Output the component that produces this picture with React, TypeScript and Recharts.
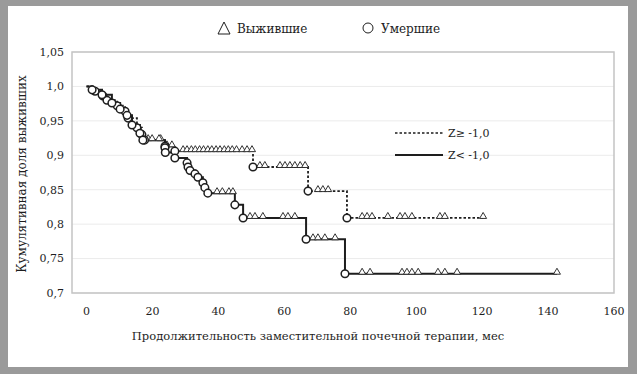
import React from 'react';
import { ComposedChart, Line, Scatter, XAxis, YAxis, CartesianGrid, ReferenceArea } from 'recharts';

const xTicks = [0, 20, 40, 60, 80, 100, 120, 140, 160];
const yTicks = [0.7, 0.75, 0.8, 0.85, 0.9, 0.95, 1.0, 1.05];
const yTickLabels = ['0,7', '0,75', '0,8', '0,85', '0,9', '0,95', '1,0', '1,05'];

const legendTop = ['Выжившие', 'Умершие'];
const seriesNames = ['Z≥ -1,0', 'Z< -1,0'];
const xTitle = 'Продолжительность заместительной почечной терапии, мес';
const yTitle = 'Кумулятивная доля выживших';

// Z ≥ -1,0 (dashed) — deaths (circles)
const dashedEventT = [2.6, 5.0, 6.2, 9.3, 11.7, 12.6, 15.3, 16.8, 17.6, 23.8, 26.8, 50.5, 67.2, 79.0];
const dashedEventV = [0.993, 0.986, 0.98, 0.972, 0.964, 0.954, 0.94, 0.93, 0.922, 0.913, 0.906, 0.883, 0.848, 0.809];
// Z ≥ -1,0 — survivors (triangles)
const dashedCensT = [22.5, 24.4, 25.9, 29.3, 30.5, 31.8, 33.0, 34.3, 35.5, 36.8, 38.0, 39.3, 40.5, 41.8, 43.0, 44.2, 45.5, 47.2, 48.7, 50.2, 52.6, 54.1, 58.7, 60.2, 61.7, 63.2, 64.8, 66.3, 70.2, 71.7, 73.3, 83.6, 85.1, 86.6, 91.4, 95.1, 96.6, 98.7, 107.2, 108.7, 120.3];
const dashedCensV = [0.922, 0.913, 0.913, 0.906, 0.906, 0.906, 0.906, 0.906, 0.906, 0.906, 0.906, 0.906, 0.906, 0.906, 0.906, 0.906, 0.906, 0.906, 0.906, 0.906, 0.883, 0.883, 0.883, 0.883, 0.883, 0.883, 0.883, 0.883, 0.848, 0.848, 0.848, 0.809, 0.809, 0.809, 0.809, 0.809, 0.809, 0.809, 0.809, 0.809, 0.809];
const dashedEnd = 120.3;

// Z < -1,0 (solid) — deaths (circles)
const solidEventT = [1.7, 4.7, 7.7, 10.2, 12.3, 13.8, 16.2, 17.1, 23.8, 23.9, 26.8, 30.5, 30.8, 31.4, 32.9, 33.8, 35.3, 35.9, 36.8, 45.0, 47.5, 66.6, 78.4];
const solidEventV = [0.995, 0.988, 0.976, 0.967, 0.958, 0.944, 0.932, 0.922, 0.911, 0.904, 0.896, 0.889, 0.883, 0.878, 0.873, 0.868, 0.86, 0.853, 0.845, 0.828, 0.809, 0.778, 0.728];
// Z < -1,0 — survivors (triangles)
const solidCensT = [18.7, 19.9, 22.0, 39.6, 41.2, 43.2, 44.4, 49.6, 51.1, 53.5, 59.6, 61.1, 63.2, 68.7, 70.2, 72.3, 75.4, 83.6, 86.0, 95.7, 97.2, 98.7, 100.6, 106.6, 108.7, 112.4, 142.7];
const solidCensV = [0.922, 0.922, 0.922, 0.845, 0.845, 0.845, 0.845, 0.809, 0.809, 0.809, 0.809, 0.809, 0.809, 0.778, 0.778, 0.778, 0.778, 0.728, 0.728, 0.728, 0.728, 0.728, 0.728, 0.728, 0.728, 0.728, 0.728];
const solidEnd = 142.7;

const pts = (ts: number[], vs: number[]) => ts.map((t, i) => ({ t, v: vs[i] }));
const stepLine = (ts: number[], vs: number[], end: number) => [
  { t: 0, v: 1.0 },
  ...pts(ts, vs),
  { t: end, v: vs[vs.length - 1] },
];

const dashedLine = stepLine(dashedEventT, dashedEventV, dashedEnd);
const solidLine = stepLine(solidEventT, solidEventV, solidEnd);
const deaths = [...pts(dashedEventT, dashedEventV), ...pts(solidEventT, solidEventV)];
const survivors = [...pts(dashedCensT, dashedCensV), ...pts(solidCensT, solidCensV)];

const FONT = "'DejaVu Serif', serif";
const INK = '#1e1e1e';

const Tri = (p: any) => {
  const { cx, cy } = p;
  if (cx == null || cy == null) return null;
  return (
    <path
      d={`M${cx - 3.5},${cy + 0.5} L${cx + 3.5},${cy + 0.5} L${cx},${cy - 5.5} Z`}
      fill="#fff"
      stroke={INK}
      strokeWidth={0.9}
    />
  );
};

const Circ = (p: any) => {
  const { cx, cy } = p;
  if (cx == null || cy == null) return null;
  return <circle cx={cx} cy={cy} r={3.8} fill="#fff" stroke={INK} strokeWidth={1.5} />;
};

export default function App() {
  return (
    <div style={{ position: 'absolute', left: 0, top: 0, width: 637, height: 374, background: '#fff', overflow: 'hidden', fontFamily: FONT }}>
      <div
        style={{
          position: 'absolute', inset: 0, boxSizing: 'border-box',
          borderStyle: 'solid', borderColor: '#9a9a9a',
          borderTopWidth: 6, borderLeftWidth: 8, borderRightWidth: 9, borderBottomWidth: 7,
        }}
      />
      <div style={{ position: 'absolute', left: 0, top: 0 }}>
        <ComposedChart width={637} height={374} margin={{ top: 52, right: 23, bottom: 0, left: 8 }} style={{ fontFamily: FONT }}>
          <CartesianGrid vertical={false} stroke="#ebebeb" />
          <ReferenceArea x1={-4.4} x2={160} y1={0.7} y2={1.05} fill="none" stroke="#c4c4c4" strokeWidth={1.5} ifOverflow="visible" />
          <XAxis
            type="number"
            dataKey="t"
            domain={[-4.4, 160]}
            ticks={xTicks}
            allowDataOverflow
            height={81}
            tickLine={false}
            axisLine={false}
            tickSize={0}
            tickMargin={14}
            tick={{ fontFamily: FONT, fontSize: 11, fill: INK }}
            interval={0}
          />
          <YAxis
            type="number"
            domain={[0.7, 1.05]}
            ticks={yTicks}
            width={64}
            tickLine={false}
            axisLine={false}
            tickSize={0}
            tickMargin={8}
            tickFormatter={(v: number, i: number) => yTickLabels[i]}
            tick={{ fontFamily: FONT, fontSize: 11, fill: INK }}
            interval={0}
          />
          <Line data={dashedLine} dataKey="v" type="stepAfter" stroke={INK} strokeWidth={1.8} strokeDasharray="2.5 2" dot={false} activeDot={false} isAnimationActive={false} />
          <Line data={solidLine} dataKey="v" type="stepAfter" stroke={INK} strokeWidth={2} dot={false} activeDot={false} isAnimationActive={false} />
          <Scatter data={survivors} dataKey="v" shape={Tri} isAnimationActive={false} />
          <Scatter data={deaths} dataKey="v" shape={Circ} isAnimationActive={false} />
        </ComposedChart>
      </div>
      <svg width={637} height={374} style={{ position: 'absolute', left: 0, top: 0, pointerEvents: 'none' }}>
        <g style={{ fontFamily: FONT }} fill={INK}>
          <path d="M218,34 L230,34 L224,22 Z" fill="#fff" stroke={INK} strokeWidth={1} />
          <text x={237} y={33} fontSize={12}>{legendTop[0]}</text>
          <circle cx={368} cy={28} r={5} fill="#fff" stroke={INK} strokeWidth={1} />
          <text x={381} y={33} fontSize={12}>{legendTop[1]}</text>

          <line x1={395} y1={133} x2={443} y2={133} stroke={INK} strokeWidth={1.5} strokeDasharray="2.5 2" />
          <text x={448} y={137} fontSize={11}>{seriesNames[0]}</text>
          <line x1={395} y1={155} x2={443} y2={155} stroke={INK} strokeWidth={2} />
          <text x={448} y={159} fontSize={11}>{seriesNames[1]}</text>

          <text x={318} y={340} fontSize={11.5} textAnchor="middle">{xTitle}</text>
          <text x={0} y={0} fontSize={12} textAnchor="middle" transform="translate(26,174) rotate(-90)">{yTitle}</text>
        </g>
      </svg>
    </div>
  );
}
